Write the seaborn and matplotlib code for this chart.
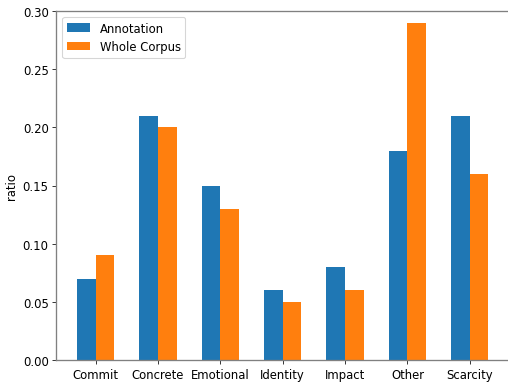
import matplotlib
matplotlib.use("Agg")
import matplotlib.pyplot as plt
import seaborn as sns
import pandas as pd

categories = ["Commit", "Concrete", "Emotional", "Identity", "Impact", "Other", "Scarcity"]
annotation = [0.07, 0.21, 0.15, 0.06, 0.08, 0.18, 0.21]
whole_corpus = [0.09, 0.20, 0.13, 0.05, 0.06, 0.29, 0.16]
yticks = [0.00, 0.05, 0.10, 0.15, 0.20, 0.25, 0.30]

df = pd.DataFrame({
    "category": categories * 2,
    "ratio": annotation + whole_corpus,
    "source": ["Annotation"] * len(categories) + ["Whole Corpus"] * len(categories),
})

plt.rcParams["font.family"] = ["DejaVu Sans"]
plt.rcParams["font.size"] = 10.6
fig = plt.figure(figsize=(6.4, 4.825), dpi=508 / 6.4)
# axes box runs a little past the right edge of the canvas
ax = fig.add_axes([0.111, 0.0574, 0.905, 0.9113])

sns.barplot(data=df, x="category", y="ratio", hue="source",
            palette=["#1f77b4", "#ff7f0e"], width=0.6, gap=0,
            saturation=1, ax=ax, errorbar=None)

# keep category spacing: extend the right limit to match the wider box
ax.set_xlim(-0.63, 6.63 + 7.26 * (0.905 / 0.891 - 1))
ax.set_ylim(0, 0.30)
ax.set_yticks(yticks)
ax.set_yticklabels([f"{v:.2f}" for v in yticks])
ax.set_xlabel("")
ax.set_ylabel("ratio")

for side in ["left", "bottom", "top"]:
    ax.spines[side].set_color("#808080")
    ax.spines[side].set_linewidth(1.2)
ax.spines["right"].set_visible(False)
ax.tick_params(colors="#222222", labelcolor="black")

ax.legend(loc="upper left", title=None)

fig.savefig("out.png", dpi=508 / 6.4)
